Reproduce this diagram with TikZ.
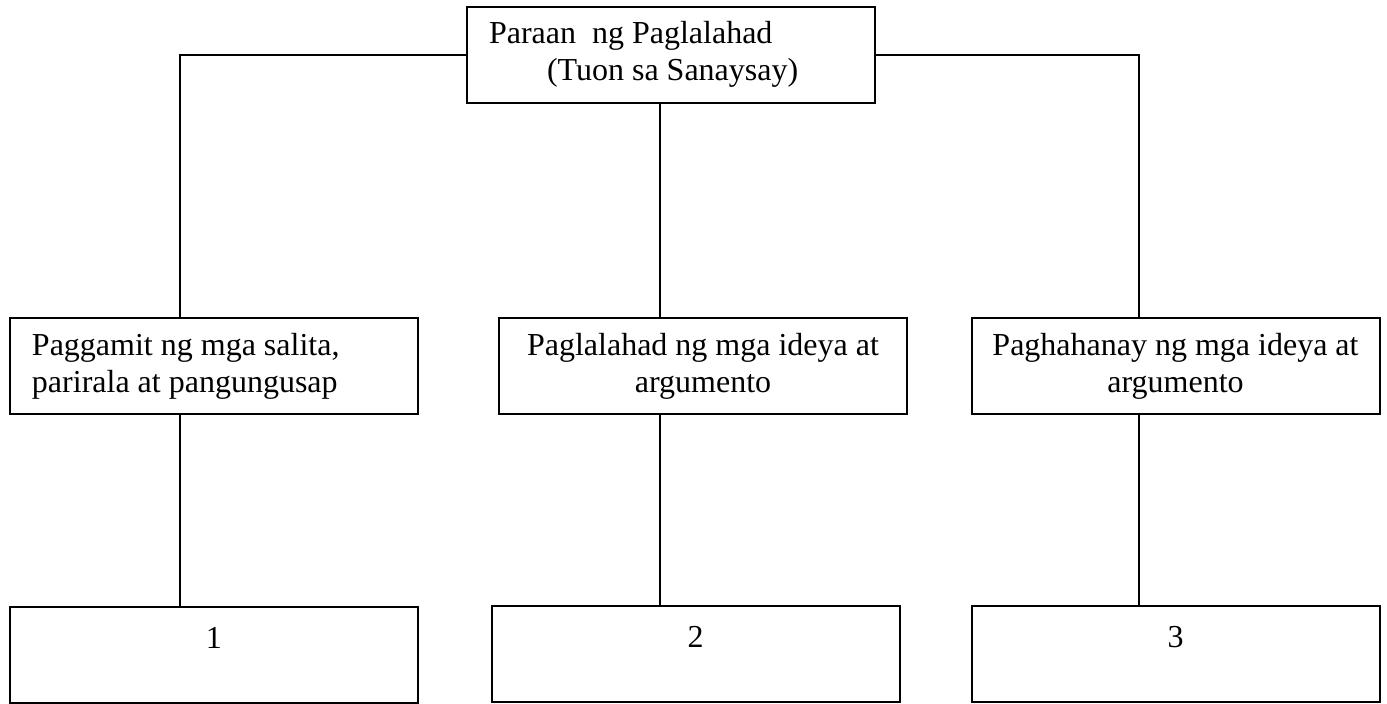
\documentclass[tikz,border=0pt]{standalone}
\usepackage{fontspec}
\setmainfont{Liberation Serif}
\usepackage{tikz}

\tikzset{
    box/.style={draw,line width=1pt,rectangle,minimum height=48pt,text width=182pt,inner xsep=11pt,inner ysep=0pt,
        align=left,execute at begin node={\spaceskip=0.25em\xspaceskip=0.25em\relax}},
    cbox/.style={box,text width=198pt,inner xsep=3pt,align=center},
    numbox/.style={cbox,text height=20.5pt,text depth=27.5pt},
    link/.style={line width=1pt}
}

\begin{document}
\begin{tikzpicture}[x=0.5pt,y=-0.5pt,font=\fontsize{16}{18.5}\selectfont]
    \useasboundingbox (0,0) rectangle (1387,703);

    \coordinate (top) at (671,54.5);
    \coordinate (m1) at (214,366);
    \coordinate (m2) at (703,366);
    \coordinate (m3) at (1175.5,366);
    \coordinate (b1) at (214,655);
    \coordinate (b2) at (695.5,654);
    \coordinate (b3) at (1175.5,654);

    \coordinate (k1) at (180,318);
    \coordinate (k2) at (660,318);
    \coordinate (k3) at (1139,318);

    \node (T) [box] at (top) {Paraan\ \ ng Paglalahad\\\hspace*{29pt}(Tuon sa Sanaysay)};

    \node (M1) [box] at (m1) {Paggamit ng mga salita,\\parirala at pangungusap};
    \node (M2) [cbox] at (m2) {Paglalahad ng mga ideya at\\argumento};
    \node (M3) [cbox] at (m3) {Paghahanay ng mga ideya at\\argumento};

    \node (B1) [numbox] at (b1) {1};
    \node (B2) [numbox] at (b2) {2};
    \node (B3) [numbox] at (b3) {3};

    \draw[link] (T.west) -| (k1);
    \draw[link] (k2 |- T.south) -- (k2);
    \draw[link] (T.east) -| (k3);

    \draw[link] (k1 |- M1.south) -- (k1 |- B1.north);
    \draw[link] (k2 |- M2.south) -- (k2 |- B2.north);
    \draw[link] (k3 |- M3.south) -- (k3 |- B3.north);

\end{tikzpicture}
\end{document}
